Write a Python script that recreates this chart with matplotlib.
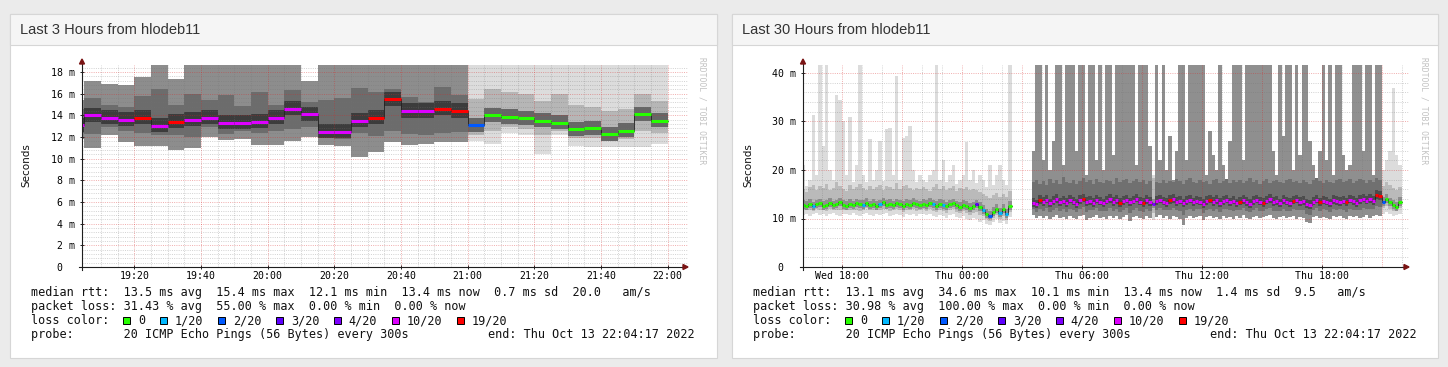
import matplotlib
matplotlib.use("Agg")
import matplotlib.pyplot as plt
import numpy as np
from matplotlib.patches import Rectangle, Polygon
from matplotlib.lines import Line2D

W, H = 1448, 367
nan = np.nan

plt.rcParams['font.family'] = 'DejaVu Sans Mono'

# ---------- last 3 hours: 5 min steps, minutes after 19:00 ----------
l_start = list(range(0, 180, 5))
l_med = [13.1, 14.0, 13.8, 13.6, 13.8, 13.05, 13.4, 13.6, 13.8, 13.3, 13.3, 13.4,
         13.8, 14.6, 14.1, 12.5, 12.5, 13.5, 13.8, 15.5, 14.4, 14.4, 14.6, 14.4,
         13.1, 14.0, 13.85, 13.75, 13.5, 13.3, 12.7, 12.8, 12.25, 12.6, 14.1, 13.5]
l_loss = [10, 10, 10, 10, 19, 10, 19, 10, 10, 10, 10, 10,
          10, 10, 10, 10, 10, 10, 19, 19, 10, 10, 19, 19,
          2, 0, 0, 0, 0, 0, 0, 0, 0, 0, 0, 0]
l_min = [11.8, 10.96, 12.2, 11.5, 11.2, 11.2, 10.8, 11.0, 12.0, 11.7, 11.8, 11.3,
         11.3, 11.6, 12.0, 11.3, 11.2, 10.2, 10.6, 11.5, 11.3, 11.35, 11.5, 11.5,
         11.6, 11.4, 12.4, 12.2, 10.4, 12.2, 11.2, 11.1, 11.1, 11.1, 11.1, 11.35]
l_q1 = [12.4, 12.3, 12.9, 12.6, 12.4, 12.2, 12.2, 12.0, 12.9, 12.3, 12.6, 12.4,
        12.6, 12.7, 12.9, 11.9, 11.8, 12.4, 12.1, 12.6, 12.3, 12.2, 12.4, 12.5,
        12.2, 12.6, 12.9, 12.7, 12.2, 12.6, 11.9, 11.9, 11.7, 11.8, 12.6, 12.4]
l_q3 = [14.6, 15.6, 15.0, 14.8, 15.8, 16.4, 15.0, 16.0, 15.4, 15.9, 14.9, 16.2,
        15.0, 16.3, 15.2, 15.4, 15.6, 16.5, 16.2, 16.4, 15.7, 15.2, 16.6, 15.9,
        15.5, 16.4, 16.2, 16.0, 15.3, 16.0, 15.0, 14.8, 14.4, 14.6, 16.0, 15.3]
l_max = [15.4, 17.2, 16.9, 16.8, 17.5, 19.0, 17.4, 19.0, 19.0, 19.0, 19.0, 19.0,
         19.0, 19.0, 17.2, 19.0, 19.0, 19.0, 19.0, 19.0, 19.0, 19.0, 19.0, 19.0,
         19.0, 19.0, 19.0, 19.0, 19.0, 19.0, 19.0, 19.0, 19.0, 19.0, 19.0, 19.0]
l_ticks = [20, 40, 60, 80, 100, 120, 140, 160, 180]
l_ticklabels = ['19:20', '19:40', '20:00', '20:20', '20:40', '21:00', '21:20', '21:40', '22:00']

# ---------- last 30 hours: 10 min steps, minutes after Wed 16:00 ----------
r_start = list(range(0, 1800, 10))
r_med = [12.8, 12.6, 13.0, 12.5, 12.9, 13.1, 12.6, 12.8, 13.2, 12.7, 12.9, 13.3, 12.8, 12.6, 13.0, 12.7, 13.1, 12.9,
         12.8, 13.2, 12.7, 13.0, 12.6, 12.9, 13.3, 12.8, 13.0, 12.7, 13.1, 12.9, 12.6, 13.0, 12.8, 13.2, 12.9, 12.7,
         13.0, 12.8, 13.2, 12.9, 12.6, 13.0, 12.8, 12.5, 12.9, 13.1, 12.7, 12.4, 12.8, 12.6, 12.2, 12.5, 12.9, 12.3,
         11.8, 11.0, 10.6, 11.4, 12.0, 11.2, 11.9, 10.9, 12.6, nan, nan, nan, nan, nan, nan, 13.2, 12.9, 13.8,
         13.4, 13.9, 13.1, 13.6, 14.0, 13.3, 13.7, 13.2, 13.9, 13.5, 13.0, 13.8, 14.1, 13.4, 13.6, 13.2, 13.9, 13.5,
         13.1, 13.7, 14.0, 13.4, 13.8, 13.2, 13.6, 13.9, 13.3, 13.7, 14.1, 13.5, 13.2, 13.8, 13.4, 13.0, 13.6, 13.9,
         13.5, 13.2, 13.8, 14.0, 13.4, 13.7, 13.1, 13.6, 13.9, 13.3, 13.7, 13.5, 13.0, 13.6, 13.9, 13.4, 13.8, 13.2,
         13.6, 13.9, 13.3, 13.7, 13.1, 13.5, 13.8, 13.4, 13.0, 13.6, 13.9, 13.5, 13.2, 13.7, 14.0, 13.4, 13.6, 13.1,
         13.8, 13.5, 13.2, 13.7, 13.9, 13.4, 13.6, 13.0, 12.8, 13.5, 13.9, 13.3, 13.7, 13.5, 13.1, 13.8, 13.6, 13.4,
         13.7, 13.3, 13.9, 13.6, 13.2, 13.8, 14.1, 13.7, 14.0, 13.6, 14.8, 14.6, 13.4, 14.0, 13.3, 12.8, 12.4, 13.4]
r_loss = [0, 0, 0, 1, 0, 0, 0, 0, 0, 0, 0, 0, 0, 0, 0, 0, 0, 0,
          1, 0, 0, 0, 0, 1, 0, 0, 0, 0, 0, 0, 0, 0, 0, 0, 0, 0,
          0, 0, 0, 1, 0, 0, 1, 0, 0, 0, 0, 0, 0, 0, 0, 0, 3, 0,
          1, 0, 2, 0, 0, 1, 0, 1, 0, 0, 0, 0, 0, 0, 0, 10, 10, 19,
          10, 10, 10, 10, 10, 10, 10, 10, 10, 10, 10, 10, 19, 10, 10, 10, 10, 10,
          10, 10, 10, 10, 10, 19, 10, 10, 10, 10, 10, 10, 19, 10, 10, 4, 10, 10,
          10, 10, 19, 10, 10, 10, 10, 10, 10, 10, 10, 10, 10, 10, 19, 10, 10, 10,
          10, 10, 10, 10, 10, 19, 10, 10, 10, 10, 10, 10, 19, 10, 10, 10, 10, 10,
          10, 10, 10, 19, 10, 10, 10, 10, 10, 10, 10, 19, 10, 10, 10, 10, 10, 10,
          10, 19, 10, 10, 10, 10, 10, 10, 10, 10, 19, 19, 2, 0, 0, 0, 0, 0]
r_low = [10.8, 11.0, 10.6, 10.9, 11.2, 10.7, 11.0, 10.5, 10.9, 11.1, 10.8, 10.6, 11.0, 10.9, 10.7, 11.1, 10.8, 10.6,
         10.9, 11.2, 10.8, 10.6, 11.0, 10.7, 10.9, 11.1, 10.5, 10.8, 11.0, 10.7, 10.4, 10.9, 10.8, 11.0, 10.6, 10.9,
         11.0, 10.7, 10.9, 10.6, 10.3, 10.8, 10.5, 10.2, 10.7, 10.9, 10.4, 10.1, 10.6, 9.8, 9.6, 10.2, 9.9, 9.3,
         9.6, 8.9, 8.6, 9.2, 9.8, 9.0, 9.5, 8.8, 10.4, nan, nan, nan, nan, nan, nan, 10.8, 10.2, 10.5,
         10.0, 10.6, 9.8, 10.3, 10.7, 10.1, 10.4, 9.9, 10.5, 10.2, 9.9, 10.6, 10.8, 9.6, 10.2, 10.4, 10.7, 10.1,
         10.3, 9.9, 10.6, 10.2, 10.5, 9.8, 10.4, 10.7, 9.5, 10.3, 10.6, 10.1, 9.9, 10.5, 10.2, 9.6, 10.4, 10.7,
         10.2, 10.5, 9.9, 10.6, 10.3, 9.8, 8.7, 10.2, 10.5, 10.0, 10.4, 10.6, 9.7, 10.3, 10.5, 10.1, 10.4, 9.9,
         10.6, 10.2, 10.4, 9.9, 10.5, 10.2, 10.7, 10.0, 9.8, 10.4, 10.6, 10.1, 10.3, 10.5, 10.8, 10.2, 9.9, 10.4,
         10.5, 10.1, 10.3, 10.6, 9.9, 10.4, 10.2, 9.2, 9.0, 10.3, 10.6, 10.0, 10.4, 10.2, 9.8, 10.5, 10.3, 10.6,
         10.2, 9.8, 10.5, 10.3, 10.6, 10.1, 10.4, 10.7, 10.2, 10.5, 10.8, 10.6, 11.0, 11.3, 10.9, 10.5, 10.7, 11.0]
r_high = [16.0, 15.5, 16.4, 17.0, 15.8, 16.6, 16.2, 17.2, 15.9, 16.3, 17.5, 16.8, 16.1, 15.7, 16.9, 16.0, 16.4, 17.1,
          16.2, 15.8, 16.7, 16.0, 16.4, 17.0, 15.9, 16.8, 16.5, 16.1, 17.3, 16.0, 16.6, 16.9, 16.2, 15.8, 16.3, 16.0,
          16.4, 16.1, 15.7, 16.5, 17.2, 16.0, 16.6, 15.9, 16.3, 16.8, 15.6, 16.2, 16.0, 16.5, 15.8, 16.1, 15.9, 15.4,
          15.0, 14.6, 14.2, 14.9, 15.3, 14.5, 15.1, 14.4, 15.6, nan, nan, nan, nan, nan, nan, 17.5, 18.0, 17.2,
          17.8, 17.0, 18.2, 17.4, 17.9, 17.1, 18.5, 17.6, 17.3, 18.0, 17.2, 17.7, 18.3, 17.5, 17.9, 17.1, 18.1, 17.6,
          17.4, 18.0, 17.7, 17.2, 18.4, 17.6, 17.9, 18.2, 17.3, 17.8, 18.1, 17.5, 17.9, 17.2, 17.7, 18.3, 17.6, 17.4,
          18.0, 17.3, 17.8, 17.5, 18.2, 17.7, 17.1, 17.9, 18.4, 17.6, 17.3, 18.0, 17.5, 17.8, 17.2, 17.9, 18.1, 17.4,
          17.7, 18.2, 17.4, 17.9, 17.6, 18.0, 17.3, 17.8, 18.3, 17.5, 17.9, 17.2, 17.7, 18.1, 17.4, 17.8, 18.0, 17.6,
          17.3, 17.9, 18.2, 17.5, 17.8, 17.4, 18.0, 17.6, 17.2, 17.9, 18.3, 17.7, 17.4, 18.0, 17.6, 17.3, 17.9, 18.2,
          17.5, 17.8, 18.1, 17.4, 17.7, 18.2, 17.9, 17.3, 18.0, 17.6, 18.4, 18.0, 16.8, 17.5, 16.9, 16.2, 15.8, 16.4]
r_peak = [21, 16.8, 18, 31.4, 19, 41.6, 25, 41.6, 20, 18, 35.5, 34.5, 30, 19, 31, 17.5, 21, 41.6,
          19, 17.5, 26.3, 18, 20, 26, 17.8, 28.4, 28.7, 19, 39.3, 18, 26.6, 27, 29, 20, 17.6, 19,
          18, 17.5, 19, 20, 41.6, 18, 22, 17.5, 19, 21, 17.2, 18, 19, 25.8, 18, 20, 17.4, 19,
          18, 16.5, 21, 17, 19, 21, 18, 17, 41.6, nan, nan, nan, nan, nan, nan, 24, 45, 45,
          22, 45, 20, 26, 45, 45, 21, 45, 45, 45, 24, 45, 45, 19, 45, 45, 22, 45,
          20, 45, 45, 23, 45, 45, 45, 45, 45, 45, 21, 45, 45, 45, 25, 19, 45, 22,
          45, 20, 27, 18, 24, 45, 45, 22, 45, 45, 45, 45, 45, 19, 28, 23, 20, 45,
          21, 18, 26, 45, 45, 45, 22, 45, 45, 45, 45, 45, 45, 45, 45, 24, 19, 45,
          27, 45, 45, 20, 45, 23, 45, 45, 26, 21, 18, 24, 45, 22, 45, 19, 45, 45,
          23, 20, 21, 45, 45, 45, 24, 45, 45, 19, 45, 45, 20, 22, 24, 37, 23, 21]
r_ticks = [120, 480, 840, 1200, 1560]
r_ticklabels = ['Wed 18:00', 'Thu 00:00', 'Thu 06:00', 'Thu 12:00', 'Thu 18:00']

loss_steps = [0, 1, 2, 3, 4, 10, 19]
loss_names = ['0', '1/20', '2/20', '3/20', '4/20', '10/20', '19/20']
loss_cols = ['#26ff00', '#00b8ff', '#0059ff', '#5e00ff', '#7e00ff', '#dd00ff', '#ff0000']
lcol = dict(zip(loss_steps, loss_cols))

l_legend = ["median rtt:  13.5 ms avg  15.4 ms max  12.1 ms min  13.4 ms now  0.7 ms sd  20.0   am/s",
            "packet loss: 31.43 % avg  55.00 % max  0.00 % min  0.00 % now",
            "loss color:",
            "probe:       20 ICMP Echo Pings (56 Bytes) every 300s"]
r_legend = ["median rtt:  13.1 ms avg  34.6 ms max  10.1 ms min  13.4 ms now  1.4 ms sd  9.5   am/s",
            "packet loss: 30.98 % avg  100.00 % max  0.00 % min  0.00 % now",
            "loss color:",
            "probe:       20 ICMP Echo Pings (56 Bytes) every 300s"]
end_text = "end: Thu Oct 13 22:04:17 2022"

fig = plt.figure(figsize=(W / 100, H / 100), dpi=100)
fig.patch.set_facecolor('#ebebeb')


def fx(px):
    return px / W


def fy(py):
    return 1 - py / H


def rect(x0, y0, x1, y1, z=5, **kw):
    fig.add_artist(Rectangle((fx(x0), fy(y1)), fx(x1) - fx(x0), fy(y0) - fy(y1),
                             transform=fig.transFigure, zorder=z, **kw))


def panel(x0, x1, title):
    rect(x0, 14, x1, 358, z=-10, facecolor='white', edgecolor='#d6d6d6', lw=0.8)
    rect(x0, 14, x1, 45, z=-9, facecolor='#f5f5f5', edgecolor='#d6d6d6', lw=0.8)
    fig.text(fx(x0 + 10), fy(29.5), title, va='center', ha='left', fontsize=10.5,
             family='Liberation Sans', color='#333333')


def make_axes(x0, xlim, ymax, yticks, ylabels, xticks, xlabels):
    ax = fig.add_axes([fx(x0), fy(267), 600 / W, 202 / H])
    ax.set_xlim(*xlim)
    ax.set_ylim(0, ymax)
    ax.set_facecolor('white')
    for s in ax.spines.values():
        s.set_visible(False)
    ax.set_yticks(yticks, ylabels)
    ax.set_xticks(xticks, xlabels)
    ax.tick_params(axis='y', length=3, width=0.7, direction='inout', pad=3.6,
                   labelsize=7.1, color='#222222')
    ax.tick_params(axis='x', length=3, width=0.7, direction='inout', pad=1.6,
                   labelsize=7.1, color='#222222')
    return ax


def grid(ax, hmin, hmaj, vmin, vmaj):
    ext = 1 + 5 / 600
    gmin = (0.45, 0.45, 0.45, 0.32)
    gmaj = (0.85, 0.15, 0.15, 0.38)
    for y in hmin:
        ax.axhline(y, xmax=ext, color=gmin, lw=0.7, ls=(0, (1, 1.3)), zorder=2, clip_on=False)
    for x in vmin:
        ax.axvline(x, color=gmin, lw=0.7, ls=(0, (1, 1.3)), zorder=2)
    for y in hmaj:
        ax.axhline(y, xmax=ext, color=gmaj, lw=0.7, ls=(0, (1, 1.3)), zorder=2.1, clip_on=False)
    for x in vmaj:
        ax.axvline(x, color=gmaj, lw=0.7, ls=(0, (1, 1.3)), zorder=2.1)


def axis_lines(x0, x1):
    fig.add_artist(Line2D([fx(x0 - 3), fx(x1 + 2)], [fy(267), fy(267)], color='#1e1e1e', lw=0.8,
                          transform=fig.transFigure, zorder=6))
    fig.add_artist(Line2D([fx(x0), fx(x0)], [fy(270), fy(61)], color='#1e1e1e', lw=0.8,
                          transform=fig.transFigure, zorder=6))
    fig.add_artist(Polygon([(fx(x1 + 1), fy(264.5)), (fx(x1 + 6), fy(267)), (fx(x1 + 1), fy(269.5))],
                           closed=True, color='#7a1414', transform=fig.transFigure, zorder=6))
    fig.add_artist(Polygon([(fx(x0 - 2.5), fy(64)), (fx(x0), fy(59)), (fx(x0 + 2.5), fy(64))],
                           closed=True, color='#7a1414', transform=fig.transFigure, zorder=6))


def draw_median(ax, start, width, med, loss):
    xs = np.append(np.array(start, float), start[-1] + width)
    ys = np.append(np.array(med, float), med[-1])
    ax.step(xs, ys, where='post', color='#202020', lw=0.6, zorder=3)
    cols = [lcol[v] for v in loss]
    ax.hlines(med, np.array(start, float), np.array(start, float) + width, colors=cols,
              lw=2.2, zorder=4)


def legend(x0, lines, right_x):
    cw = 7.12
    base = [296, 310, 324, 338]
    for i, s in enumerate(lines):
        fig.text(fx(x0), fy(base[i]), s, va='baseline', ha='left', fontsize=8.5, color='#111111')
    fig.text(fx(right_x), fy(base[3]), end_text, va='baseline', ha='right', fontsize=8.5,
             color='#111111')
    bx = x0 + 13 * cw - 0.5
    for name, c in zip(loss_names, loss_cols):
        rect(bx, base[2] - 7.5, bx + 7, base[2] - 0.5, facecolor=c, edgecolor='#000000', lw=0.7)
        tx = bx + 14.8
        fig.text(fx(tx), fy(base[2]), name, va='baseline', ha='left', fontsize=8.5, color='#111111')
        bx = tx + len(name) * cw + 14.8


# ---------------- left panel ----------------
panel(10, 717, 'Last 3 Hours from hlodeb11')
axl = make_axes(82, (4.283, 184.283), 202 / 10.83,
                list(range(0, 19, 2)), ['0  '] + ['%d m' % v for v in range(2, 19, 2)],
                l_ticks, l_ticklabels)
grid(axl, [v for v in np.arange(0.4, 18.7, 0.4) if abs(v / 2 - round(v / 2)) > 0.01],
     list(range(2, 19, 2)),
     [v for v in range(10, 185, 5) if v % 20], l_ticks)

heavy = [v >= 10 for v in l_loss]
outer = ['#8d8d8d' if h else '#dcdcdc' for h in heavy]
mid = ['#6c6c6c' if h else '#b6b6b6' for h in heavy]
inner = ['#3c3c3c' if h else '#666666' for h in heavy]
ls = np.array(l_start, float)
lmed = np.array(l_med)
axl.bar(ls, np.array(l_max) - np.array(l_min), bottom=l_min, width=5, align='edge',
        color=outer, linewidth=0, zorder=1)
axl.bar(ls, np.array(l_q3) - np.array(l_q1), bottom=l_q1, width=5, align='edge',
        color=mid, linewidth=0, zorder=1.1)
axl.bar(ls, np.full(len(ls), 1.3), bottom=lmed - 0.6, width=5, align='edge',
        color=inner, linewidth=0, zorder=1.2)
draw_median(axl, l_start, 5, l_med, l_loss)
axis_lines(82, 682)
fig.text(fx(26), fy(165), 'Seconds', rotation=90, ha='center', va='center', fontsize=7.5,
         family='DejaVu Sans', color='#111111')
fig.text(fx(702), fy(57), 'RRDTOOL / TOBI OETIKER', rotation=270, ha='center', va='top',
         fontsize=5.8, color='#c2c2c2')
legend(31, l_legend, 695)

# ---------------- right panel ----------------
panel(732, 1438, 'Last 30 Hours from hlodeb11')
axr = make_axes(803, (4.283, 1804.283), 202 / 4.85,
                [0, 10, 20, 30, 40], ['0  ', '10 m', '20 m', '30 m', '40 m'],
                r_ticks, r_ticklabels)
grid(axr, [v for v in range(2, 42, 2) if v % 10], [10, 20, 30, 40],
     [v for v in range(60, 1801, 60) if (v - 120) % 180], list(range(120, 1801, 180)))

rs = np.array(r_start, float)
rlow = np.array(r_low)
rmed = np.array(r_med)
heavy = [v >= 10 for v in r_loss]
outer = ['#8f8f8f' if h else '#dcdcdc' for h in heavy]
mid = ['#707070' if h else '#bababa' for h in heavy]
inner = ['#4c4c4c' if h else '#8e8e8e' for h in heavy]
mlo = rlow + 0.45 * (rmed - rlow)
axr.bar(rs, np.array(r_peak) - rlow, bottom=rlow, width=10, align='edge',
        color=outer, linewidth=0, zorder=1)
axr.bar(rs, np.array(r_high) - mlo, bottom=mlo, width=10, align='edge',
        color=mid, linewidth=0, zorder=1.1)
axr.bar(rs, np.full(len(rs), 1.8), bottom=rmed - 0.8, width=10, align='edge',
        color=inner, linewidth=0, zorder=1.2)
draw_median(axr, r_start, 10, r_med, r_loss)
axis_lines(803, 1403)
fig.text(fx(748), fy(165), 'Seconds', rotation=90, ha='center', va='center', fontsize=7.5,
         family='DejaVu Sans', color='#111111')
fig.text(fx(1424), fy(57), 'RRDTOOL / TOBI OETIKER', rotation=270, ha='center', va='top',
         fontsize=5.8, color='#c2c2c2')
legend(753, r_legend, 1417)

fig.savefig('out.png', dpi=100, facecolor=fig.get_facecolor())
